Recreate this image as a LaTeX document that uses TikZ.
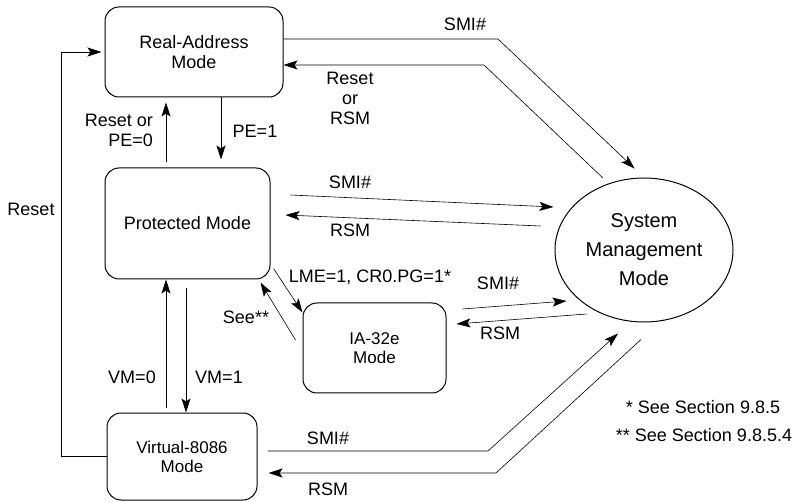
\documentclass[tikz,border=0pt]{standalone}
\usepackage{fontspec}
\setmainfont{Liberation Sans}
\usetikzlibrary{shapes.geometric,arrows.meta,calc}

\begin{document}
\begin{tikzpicture}[x=1pt, y=-1pt,
        mode/.style = {shape=rectangle, rounded corners=14pt, draw,
                       line width=1pt, align=center,
                       font=\fontsize{18}{20}\selectfont},
        smallmode/.style = {mode, font=\fontsize{17}{19}\selectfont},
        lbl/.style = {inner sep=0pt, align=center,
                      font=\fontsize{18}{20}\selectfont},
        arr/.style = {-{Stealth[length=14pt,width=9pt,inset=3pt]},
                      line width=0.6pt}]
    \useasboundingbox (0,0) rectangle (795,502);
    % modes
    \node[mode, minimum width=178pt, minimum height=90pt] (real) at (194,52) {Real-Address\\Mode};
    \node[mode, minimum width=165pt, minimum height=111pt] (prot) at (187.5,223.5) {Protected Mode};
    \node[smallmode, minimum width=143pt, minimum height=90pt] (ia) at (374.5,348) {IA-32e\\Mode};
    \node[smallmode, minimum width=150pt, minimum height=87pt] (v86) at (182,456.5) {Virtual-8086\\Mode};
    \node[draw, ellipse, line width=1pt, minimum width=178pt, minimum height=144pt,
          inner sep=0pt, align=center, font=\fontsize{20}{29}\selectfont]
          (smm) at (644,250) {System\\Management\\Mode};

    % transitions
    \draw[arr, shorten >=3pt] (v86.west) -- ++(-45,0) |- (real.west);
    \draw[arr, shorten <=5pt, shorten >=5pt] (166,0 |- prot.north) -- (166,0 |- real.south);
    \draw[arr, shorten >=8pt] (221,0 |- real.south) -- (221,0 |- prot.north);
    \draw[arr, shorten >=13pt] (real.east |- 0,39) -- (498,39) -- (smm.north);
    \draw[arr, shorten <=8pt] (smm.118) -- (484,65) -- (real.east |- 0,65);
    \draw[arr] ($(prot.east)+(20,-28.5)$) -- ($(smm.west)+(-1,-43)$);
    \draw[arr] ($(smm.west)+(-14,-24)$) -- ($(prot.east)+(15,-8.5)$);
    \draw[arr] ($(prot.south east)+(3,-11)$) -- ($(ia.north west)+(0,10)$);
    \draw[arr] ($(ia.west)+(-7,-8)$) -- ($(prot.south east)+(-10,3)$);
    \draw[arr, shorten <=5pt] (166,0 |- v86.north) -- (166,0 |- prot.south);
    \draw[arr, shorten <=9pt] (186,0 |- prot.south) -- (186,0 |- v86.north);
    \draw[arr] ($(ia.east)+(16,-39)$) -- ($(smm.west)+(12,51)$);
    \draw[arr] ($(smm.west)+(32,64)$) -- ($(ia.east)+(10,-24)$);
    \draw[arr] ($(v86.east)+(10,-5.5)$) -- (488,451) -- ($(smm.south)+(-26,11)$);
    \draw[arr] ($(smm.south)+(-3,17)$) -- (496,473) -- ($(v86.east)+(11,16.5)$);

    % labels
    \node[lbl] (lreset) at (31,209) {Reset};
    \node[lbl, align=right, anchor=east] (lpe0) at (153,130) {Reset or\\PE=0};
    \node[lbl] (lpe1) at (255,131) {PE=1};
    \node[lbl] (lsmi1) at (465,24) {SMI\#};
    \node[lbl] (lrsm1) at (350,98) {Reset\\or\\RSM};
    \node[lbl] (lsmi2) at (350,182) {SMI\#};
    \node[lbl] (lrsm2) at (350,230) {RSM};
    \node[lbl] (llme) at (370,277) {LME=1, CR0.PG=1*};
    \node[lbl] (lsee) at (246,317) {See**};
    \node[lbl] (lvm0) at (132,377) {VM=0};
    \node[lbl] (lvm1) at (219,377) {VM=1};
    \node[lbl] (lsmi3) at (498,283) {SMI\#};
    \node[lbl] (lrsm3) at (500,333) {RSM};
    \node[lbl] (lsmi4) at (328,438) {SMI\#};
    \node[lbl] (lrsm4) at (328,489) {RSM};
    \node[lbl] (note1) at (703,407) {* See Section 9.8.5};
    \node[lbl] (note2) at (704,435) {** See Section 9.8.5.4};
\end{tikzpicture}
\end{document}
